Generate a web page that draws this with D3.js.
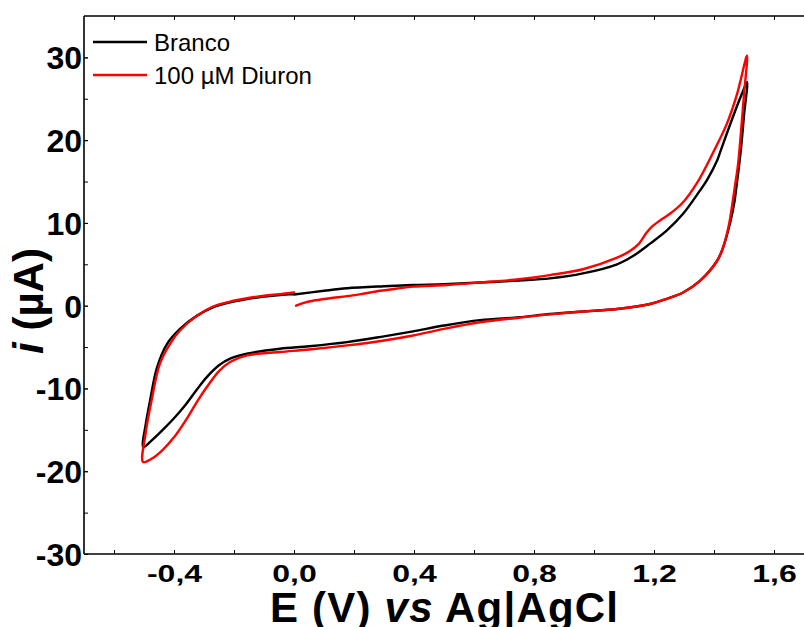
<!DOCTYPE html>
<html><head><meta charset="utf-8">
<script src="https://cdn.jsdelivr.net/npm/d3@7"></script>
<style>
html,body{margin:0;padding:0;background:#fff;}
svg{display:block;font-family:"Liberation Sans",Arial,sans-serif;}
</style></head>
<body>
<svg id="chart" width="804" height="627"></svg>
<script>
// ---- data (E in V vs Ag|AgCl, i in µA) ----
const seriesNames = ["Branco", "100 \u00b5M Diuron"];
const seriesColors = ["#000000", "#ff0000"];

const brancoE = [0.0,0.1,0.177,0.3,0.397,0.5,0.62,0.75,0.853,0.963,1.077,1.13,1.187,1.243,1.297,1.353,1.377,1.41,1.42,1.463,1.493,1.51,
  1.50,1.49,1.477,1.467,1.453,1.43,1.41,1.353,1.297,1.24,1.187,1.077,0.963,0.853,0.75,0.62,0.5,0.397,0.3,0.177,0.05,-0.047,-0.157,-0.213,-0.25,-0.29,-0.323,-0.36,-0.4,-0.44,-0.475,-0.503,
  -0.495,-0.48,-0.457,-0.423,-0.38,-0.323,-0.27,-0.213,-0.157,-0.1,-0.047,0.0];
const brancoI = [1.35,1.8,2.1,2.35,2.5,2.6,2.8,3.05,3.3,3.9,5.0,6.0,7.5,9.1,11.1,13.9,15.2,17.5,18.5,22.8,25.6,27.0,
  23,19,15,12.3,9.9,7.0,5.4,3.0,1.6,0.8,0.2,-0.4,-0.7,-1.0,-1.4,-1.75,-2.4,-3.1,-3.7,-4.4,-4.9,-5.2,-5.8,-6.4,-7.2,-8.6,-10.1,-11.9,-13.6,-15.1,-16.3,-17.1,
  -14.5,-11.5,-7.5,-4.6,-2.8,-1.2,-0.2,0.4,0.8,1.1,1.3,1.4];

const diuronE = [0.007,0.03,0.063,0.12,0.177,0.23,0.287,0.34,0.397,0.51,0.62,0.75,0.853,0.963,1.077,1.12,1.15,1.175,1.195,1.22,1.253,1.297,1.343,1.397,1.443,1.477,1.51,
  1.50,1.49,1.48,1.47,1.46,1.45,1.43,1.41,1.353,1.297,1.24,1.187,1.077,0.963,0.853,0.75,0.62,0.5,0.397,0.3,0.177,0.05,-0.047,-0.157,-0.213,-0.25,-0.29,-0.323,-0.36,-0.4,-0.44,-0.475,-0.503,
  -0.495,-0.475,-0.447,-0.413,-0.38,-0.323,-0.27,-0.213,-0.157,-0.1,-0.047,0.0];
const diuronI = [0.0,0.3,0.6,0.9,1.15,1.45,1.8,2.05,2.3,2.5,2.8,3.2,3.7,4.4,5.8,6.6,7.5,8.8,9.6,10.3,11.1,12.5,14.8,18.5,22.0,25.6,30.2,
  25.5,21,17,14.5,12,9.8,7.0,5.4,3.0,1.6,0.8,0.2,-0.4,-0.7,-1.05,-1.45,-2.0,-2.8,-3.6,-4.2,-4.8,-5.3,-5.6,-6.0,-6.8,-7.9,-9.8,-11.6,-13.8,-15.9,-17.5,-18.5,-18.9,
  -15.5,-11.5,-7.0,-4.6,-3.0,-1.2,-0.1,0.5,0.9,1.2,1.4,1.6];

const xMajorTicks = [-0.4,0.0,0.4,0.8,1.2,1.6];
const xMinorTicks = [-0.6,-0.4,-0.2,0.0,0.2,0.4,0.6,0.8,1.0,1.2,1.4,1.6];
const yMajorTicks = [-30,-20,-10,0,10,20,30];
const yMinorTicks = [-30,-25,-20,-15,-10,-5,0,5,10,15,20,25,30];

// ---- layout ----
const pL = 84, pR = 804, pT = 16, pB = 554;
const svg = d3.select("#chart");
const x = d3.scaleLinear().domain([-0.7, 1.7]).range([pL, pR]);
const y = d3.scaleLinear().domain([-30, 35]).range([pB, pT]);

const fmtX = d => (d < 0 ? "-" : "") + Math.abs(d).toFixed(1).replace(".", ",");

// curves
const line = d3.line().x(d => x(d[0])).y(d => y(d[1])).curve(d3.curveCatmullRom.alpha(0.5));
const allData = [d3.zip(brancoE, brancoI), d3.zip(diuronE, diuronI)];
allData.forEach((pts, k) => {
  svg.append("path").datum(pts).attr("d", line)
    .attr("fill", "none").attr("stroke", seriesColors[k])
    .attr("stroke-width", 2.4).attr("stroke-linejoin", "round").attr("stroke-linecap", "round");
});

// axes
const gB = svg.append("g").attr("transform", `translate(0,${pB})`);
gB.call(d3.axisBottom(x).tickValues(xMinorTicks).tickSize(-4).tickFormat(""));
const gBL = svg.append("g").attr("transform", `translate(0,${pB})`);
gBL.call(d3.axisBottom(x).tickValues(xMajorTicks).tickSize(-4).tickFormat(fmtX));
gBL.selectAll("text").attr("y", 0).attr("dy", 0)
  .attr("transform", "translate(0,28) scale(1,0.74)")
  .attr("font-size", 32).attr("font-weight", "bold").attr("fill", "#000")
  .attr("font-family", '"Liberation Sans",Arial,sans-serif');

const gT = svg.append("g").attr("transform", `translate(0,${pT})`);
gT.call(d3.axisTop(x).tickValues(xMinorTicks).tickSize(-4).tickFormat(""));

const gL = svg.append("g").attr("transform", `translate(${pL},0)`);
gL.call(d3.axisLeft(y).tickValues(yMinorTicks).tickSize(-4).tickFormat(""));
const gLL = svg.append("g").attr("transform", `translate(${pL},0)`);
gLL.call(d3.axisLeft(y).tickValues(yMajorTicks).tickSize(-4).tickPadding(2).tickFormat(d => String(d)));
gLL.selectAll("text").attr("dy", "0.36em")
  .attr("font-size", 32).attr("font-weight", "bold").attr("fill", "#000")
  .attr("font-family", '"Liberation Sans",Arial,sans-serif');

svg.selectAll(".domain").remove();
svg.selectAll(".tick line").attr("stroke", "#000").attr("stroke-width", 1);

// frame lines
svg.append("line").attr("x1", pL).attr("x2", pR).attr("y1", pT).attr("y2", pT).attr("stroke", "#000").attr("stroke-width", 1.6);
svg.append("line").attr("x1", pL).attr("x2", pR).attr("y1", pB).attr("y2", pB).attr("stroke", "#000").attr("stroke-width", 1.6);
svg.append("line").attr("x1", pL).attr("x2", pL).attr("y1", pT).attr("y2", pB).attr("stroke", "#000").attr("stroke-width", 1.6);

// axis titles
const xt = svg.append("text").attr("x", 270).attr("y", 622)
  .attr("font-size", 42).attr("font-weight", "bold").attr("fill", "#000")
  .attr("textLength", 348).attr("lengthAdjust", "spacing");
xt.append("tspan").text("E (V) ");
xt.append("tspan").attr("font-style", "italic").text("vs");
xt.append("tspan").text(" Ag|AgCl");

const yt = svg.append("text").attr("transform", "translate(43,301) rotate(-90)")
  .attr("text-anchor", "middle").attr("font-size", 42).attr("font-weight", "bold").attr("fill", "#000");
yt.append("tspan").attr("font-style", "italic").text("i");
yt.append("tspan").text(" (\u00b5A)");

// legend
const legY = [42, 75];
seriesNames.forEach((name, k) => {
  svg.append("line").attr("x1", 93).attr("x2", 147).attr("y1", legY[k]).attr("y2", legY[k])
    .attr("stroke", seriesColors[k]).attr("stroke-width", 2.4);
  svg.append("text").attr("x", 154).attr("y", legY[k] + 8.5)
    .attr("font-size", 24).attr("fill", "#000").text(name);
});
</script>
</body></html>
